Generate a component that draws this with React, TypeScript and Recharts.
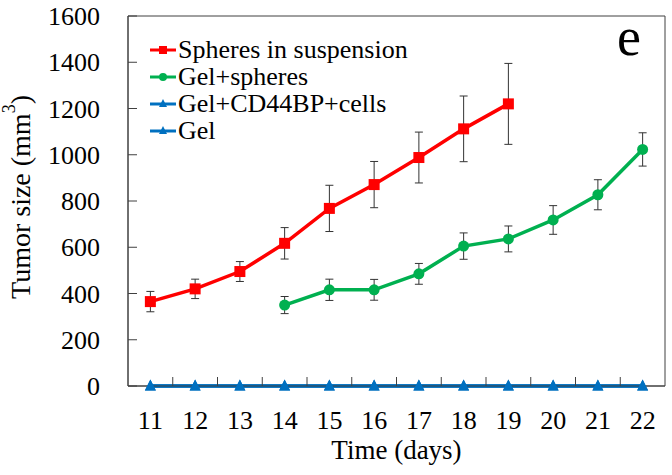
import React from "react";
import {
  ComposedChart,
  Line,
  XAxis,
  YAxis,
  ErrorBar,
  Legend,
  Label,
  ReferenceArea,
} from "recharts";

const days = ["11", "12", "13", "14", "15", "16", "17", "18", "19", "20", "21", "22"];
// days 11–19
const spheresInSuspension = [365, 420, 495, 617, 768, 871, 988, 1112, 1220];
const spheresInSuspensionErr = [44, 42, 43, 68, 100, 100, 110, 142, 175];
// days 14–22
const gelSpheresStart = "14";
const gelSpheres = [350, 416, 416, 485, 605, 636, 718, 827, 1023];
const gelSpheresErr = [37, 46, 45, 45, 57, 56, 62, 65, 72];
// days 11–22
const gelCd44Cells = [0, 0, 0, 0, 0, 0, 0, 0, 0, 0, 0, 0];
const gelOnly = [0, 0, 0, 0, 0, 0, 0, 0, 0, 0, 0, 0];
const yTicks = [0, 200, 400, 600, 800, 1000, 1200, 1400, 1600];

const RED = "#FF0000";
const GREEN = "#00B050";
const BLUE = "#0070C0";
const AXIS = "#404040";
const FONT = "Liberation Serif, DejaVu Serif, serif";

const startIdx = days.indexOf(gelSpheresStart);
const data = days.map((day, i) => ({
  day,
  susp: i < spheresInSuspension.length ? spheresInSuspension[i] : null,
  suspErr: i < spheresInSuspensionErr.length ? spheresInSuspensionErr[i] : null,
  gelSph: i >= startIdx ? gelSpheres[i - startIdx] : null,
  gelSphErr: i >= startIdx ? gelSpheresErr[i - startIdx] : null,
  cells: gelCd44Cells[i],
  gel: gelOnly[i],
}));

const legendOrder = ["susp", "gelSph", "cells", "gel"];
const shapes: Record<string, string> = {
  susp: "square",
  gelSph: "circle",
  cells: "triangle",
  gel: "triangle",
};

function Marker({ shape, cx, cy, size, color }: any) {
  const h = size / 2;
  if (shape === "square")
    return <rect x={cx - h} y={cy - h} width={size} height={size} fill={color} />;
  if (shape === "circle") return <circle cx={cx} cy={cy} r={h} fill={color} />;
  return (
    <polygon
      points={`${cx},${cy - h - 1} ${cx - h},${cy + h - 1} ${cx + h},${cy + h - 1}`}
      fill={color}
    />
  );
}

const makeDot = (shape: string, color: string, size: number) => (p: any) => {
  if (p.cy == null || p.value == null || isNaN(p.cy)) return <g key={p.index} />;
  return (
    <g key={p.index}>
      <Marker shape={shape} cx={p.cx} cy={p.cy} size={size} color={color} />
    </g>
  );
};

function DayTick(props: any) {
  const { x, y, payload, index, width, visibleTicksCount } = props;
  const band = width && visibleTicksCount ? width / visibleTicksCount : 44.75;
  return (
    <g>
      {index < days.length - 1 && (
        <line x1={x + band / 2} x2={x + band / 2} y1={y} y2={y - 9} stroke={AXIS} strokeWidth={1} />
      )}
      <text x={x} y={y + 43} textAnchor="middle" style={{ fontFamily: FONT }} fontSize={26} fill="#000">
        {payload.value}
      </text>
    </g>
  );
}

function SizeTick(props: any) {
  const { x, y, payload } = props;
  return (
    <g>
      <line x1={x} x2={x + 9} y1={y} y2={y} stroke={AXIS} strokeWidth={1} />
      <text
        x={x - 28}
        y={y}
        dy="0.35em"
        textAnchor="end"
        style={{ fontFamily: FONT }}
        fontSize={26}
        fill="#000"
      >
        {payload.value}
      </text>
    </g>
  );
}

function YTitle(props: any) {
  const vb = props.viewBox || { x: 0, y: 16, width: 128, height: 370 };
  const cx = vb.x + 20;
  const cy = vb.y + vb.height / 2 - 4;
  return (
    <text
      x={cx}
      y={cy}
      transform={`rotate(-90, ${cx}, ${cy})`}
      textAnchor="middle"
      dominantBaseline="central"
      style={{ fontFamily: FONT }}
      fontSize={28}
      fill="#000"
    >
      Tumor size (mm<tspan dy={-11} fontSize={18}>3</tspan>
      <tspan dy={11}>)</tspan>
    </text>
  );
}

function XTitle(props: any) {
  const vb = props.viewBox || { x: 128, y: 386, width: 537, height: 89 };
  return (
    <text
      x={vb.x + vb.width / 2}
      y={vb.y + 73}
      textAnchor="middle"
      style={{ fontFamily: FONT }}
      fontSize={27}
      fill="#000"
    >
      Time (days)
    </text>
  );
}

function LegendBox({ payload }: any) {
  const items = [...(payload || [])].sort(
    (a: any, b: any) => legendOrder.indexOf(a.dataKey) - legendOrder.indexOf(b.dataKey)
  );
  return (
    <div style={{ fontFamily: FONT, fontSize: 26, color: "#000" }}>
      {items.map((e: any) => (
        <div key={e.value} style={{ display: "flex", alignItems: "center", height: 27 }}>
          <svg width={26} height={20} style={{ marginRight: 2 }}>
            <line x1={0} x2={26} y1={10} y2={10} stroke={e.color} strokeWidth={3} />
            <Marker shape={shapes[e.dataKey]} cx={13} cy={10} size={8} color={e.color} />
          </svg>
          <span style={{ lineHeight: "27px", whiteSpace: "nowrap" }}>{e.value}</span>
        </div>
      ))}
    </div>
  );
}

export default function App() {
  return (
    <div style={{ position: "absolute", left: 0, top: 0, width: 672, height: 475, background: "#fff" }}>
      <ComposedChart
        width={672}
        height={475}
        data={data}
        margin={{ top: 16, right: 7, left: 0, bottom: 0 }}
      >
        <XAxis
          dataKey="day"
          scale="band"
          height={89}
          axisLine={{ stroke: AXIS }}
          tickLine={false}
          tickSize={0}
          tickMargin={0}
          interval={0}
          tick={<DayTick />}
        >
          <Label content={<XTitle />} />
        </XAxis>
        <YAxis
          width={128}
          domain={[0, 1600]}
          ticks={yTicks}
          interval={0}
          axisLine={{ stroke: AXIS }}
          tickLine={false}
          tickSize={0}
          tickMargin={0}
          tick={<SizeTick />}
        >
          <Label content={<YTitle />} />
        </YAxis>
        <ReferenceArea
          y1={0}
          y2={1600}
          fill="none"
          fillOpacity={0}
          stroke={AXIS}
          strokeWidth={1}
          ifOverflow="visible"
        />
        <Legend
          layout="vertical"
          align="center"
          verticalAlign="middle"
          wrapperStyle={{ left: 150, top: 36, width: "auto" }}
          content={<LegendBox />}
        />
        <Line
          dataKey="susp"
          name="Spheres in suspension"
          stroke={RED}
          strokeWidth={3.5}
          dot={makeDot("square", RED, 11)}
          activeDot={false}
          isAnimationActive={false}
        >
          <ErrorBar dataKey="suspErr" width={4} stroke="#333" strokeWidth={1} isAnimationActive={false} />
        </Line>
        <Line
          dataKey="gelSph"
          name="Gel+spheres"
          stroke={GREEN}
          strokeWidth={3.5}
          dot={makeDot("circle", GREEN, 11)}
          activeDot={false}
          isAnimationActive={false}
        >
          <ErrorBar dataKey="gelSphErr" width={4} stroke="#333" strokeWidth={1} isAnimationActive={false} />
        </Line>
        <Line
          dataKey="cells"
          name="Gel+CD44BP+cells"
          stroke={BLUE}
          strokeWidth={3.5}
          dot={makeDot("triangle", BLUE, 11)}
          activeDot={false}
          isAnimationActive={false}
        />
        <Line
          dataKey="gel"
          name="Gel"
          stroke={BLUE}
          strokeWidth={3.5}
          dot={makeDot("triangle", BLUE, 11)}
          activeDot={false}
          isAnimationActive={false}
        />
      </ComposedChart>
      <div
        style={{
          position: "absolute",
          left: 617,
          top: 10,
          fontFamily: FONT,
          fontSize: 54,
          lineHeight: 1,
          color: "#000",
        }}
      >
        e
      </div>
    </div>
  );
}
